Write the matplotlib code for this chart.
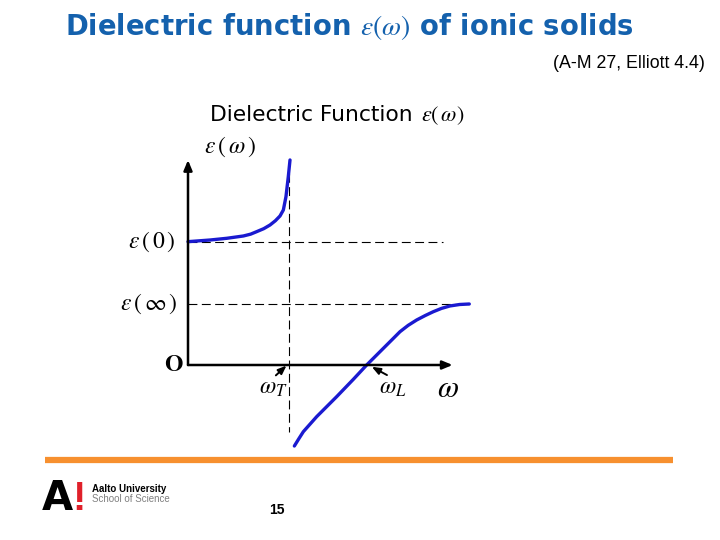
import matplotlib
matplotlib.use("Agg")
import matplotlib.pyplot as plt

plt.rcParams['font.family'] = ['Liberation Sans', 'DejaVu Sans']
plt.rcParams['mathtext.fontset'] = 'stix'

# ---- data (omega in units of omega_T, epsilon in units of eps_inf) ----
omega_T = 1.0
omega_L = 1.77
eps_inf = 1.0
eps_0 = 2.02

branch_low_w = [0.0, 0.218, 0.383, 0.548, 0.620, 0.680, 0.750, 0.812, 0.865, 0.911,
                0.944, 0.970, 0.993, 1.010]
branch_low_eps = [2.022, 2.049, 2.077, 2.115, 2.145, 2.186, 2.235, 2.295, 2.365, 2.443,
                  2.541, 2.760, 3.087, 3.361]

branch_high_w = [1.053, 1.095, 1.142, 1.274, 1.472, 1.637, 1.769, 1.934, 2.020, 2.099,
                 2.180, 2.264, 2.350, 2.429, 2.510, 2.594, 2.690, 2.785]
branch_high_eps = [-1.328, -1.215, -1.093, -0.847, -0.519, -0.235, 0.0, 0.273, 0.415, 0.546,
                   0.650, 0.738, 0.812, 0.874, 0.928, 0.968, 0.992, 1.0]

x_axis_end = 2.62
y_axis_end = 3.36
eps0_line_end = 2.525
epsinf_line_end = 2.78
vdash_bottom = -1.10

title = r"Dielectric function $\varepsilon(\omega)$ of ionic solids"
subtitle = "(A-M 27, Elliott 4.4)"
caption_words = "Dielectric Function"
caption_math = r"$\varepsilon(\,\omega)$"
page_number = "15"

W, H = 720, 540
fig = plt.figure(figsize=(W / 100, H / 100), dpi=100)
renderer = fig.canvas.get_renderer()


def fx(px):
    return px / W


def fy(py):
    return 1 - py / H


def fit_width(t, target_px):
    # scale the font size so the text spans the target width
    for _ in range(3):
        w = t.get_window_extent(renderer).width
        t.set_fontsize(t.get_fontsize() * target_px / w)


# ---- slide texts ----
t = fig.text(fx(65), fy(26), title, color='#1461ad', fontsize=18, fontweight='bold',
             family=['DejaVu Sans'], ha='left', va='center')
fit_width(t, 570)
t = fig.text(fx(705), fy(63), subtitle, color='black', fontsize=12, ha='right', va='center')
fit_width(t, 152)
t = fig.text(fx(210), fy(115), caption_words, color='black', fontsize=14,
             family=['DejaVu Sans'], ha='left', va='center')
fit_width(t, 203)
fig.text(fx(421), fy(116), caption_math, color='black', fontsize=16, ha='left', va='center')

# orange rule
fig.add_artist(plt.Line2D([fx(45), fx(673)], [fy(460), fy(460)], color='#f7902f',
                          lw=4.5, transform=fig.transFigure, solid_capstyle='butt'))

# logo
fig.text(fx(42), fy(499), "A", color='black', fontsize=29, fontweight='bold',
         family=['DejaVu Sans'], ha='left', va='center')
fig.text(fx(72), fy(499), "!", color='#e0202a', fontsize=29, fontweight='bold',
         ha='left', va='center')
fig.text(fx(92), fy(489), "Aalto University", color='black', fontsize=7,
         fontweight='bold', ha='left', va='center')
fig.text(fx(92), fy(499), "School of Science", color='#808080', fontsize=7,
         ha='left', va='center')
fig.text(fx(277), fy(510), page_number, color='black', fontsize=10, fontweight='bold',
         ha='center', va='center')

# ---- chart ----
ax = fig.add_axes([fx(110), fy(460), 380 / W, 330 / H])
ax.set_xlim((110 - 188) / 101, (490 - 188) / 101)
ax.set_ylim((365 - 460) / 61, (365 - 130) / 61)
ax.axis('off')

# dashed guides
ax.plot([0, eps0_line_end], [eps_0, eps_0], color='black', lw=0.8, ls=(0, (8, 4)))
ax.plot([0, epsinf_line_end], [eps_inf, eps_inf], color='black', lw=0.8, ls=(0, (8, 4)))
ax.plot([omega_T, omega_T], [y_axis_end, vdash_bottom], color='black', lw=0.8,
        ls=(0, (8, 4)))

# axes arrows
arrow_kw = dict(arrowstyle='-|>,head_length=0.6,head_width=0.25', color='black', lw=1.8,
                shrinkA=0, shrinkB=0)
ax.annotate('', xy=(x_axis_end, 0), xytext=(0, 0), arrowprops=arrow_kw)
ax.annotate('', xy=(0, y_axis_end), xytext=(0, 0), arrowprops=arrow_kw)

# curves
ax.plot(branch_low_w, branch_low_eps, color='#1a1ad0', lw=2.4, solid_capstyle='round',
        solid_joinstyle='round')
ax.plot(branch_high_w, branch_high_eps, color='#1a1ad0', lw=2.4, solid_capstyle='round',
        solid_joinstyle='round')

# labels
ax.text(0.42, 3.58, r"$\varepsilon\,(\,\omega\,)$", fontsize=17, ha='center', va='center')
ax.text(-0.12, eps_0, r"$\varepsilon\,(\,0\,)$", fontsize=17, ha='right', va='center')
ax.text(-0.10, eps_inf, r"$\varepsilon\,(\,\infty\,)$", fontsize=17, ha='right', va='center')
ax.text(-0.14, 0.0, r"$\mathbf{O}$", fontsize=17, ha='center', va='center')
ax.text(0.84, -0.37, r"$\omega_T$", fontsize=17, ha='center', va='center')
ax.text(2.03, -0.37, r"$\omega_L$", fontsize=17, ha='center', va='center')
ax.text(2.57, -0.40, r"$\omega$", fontsize=22, ha='center', va='center')

small_arrow = dict(arrowstyle='-|>,head_length=0.5,head_width=0.2', color='black', lw=1.4,
                   shrinkA=0, shrinkB=0)
ax.annotate('', xy=(0.975, -0.01), xytext=(0.87, -0.17), arrowprops=small_arrow)
ax.annotate('', xy=(1.82, -0.03), xytext=(1.97, -0.165), arrowprops=small_arrow)

fig.savefig('out.png', dpi=100)
